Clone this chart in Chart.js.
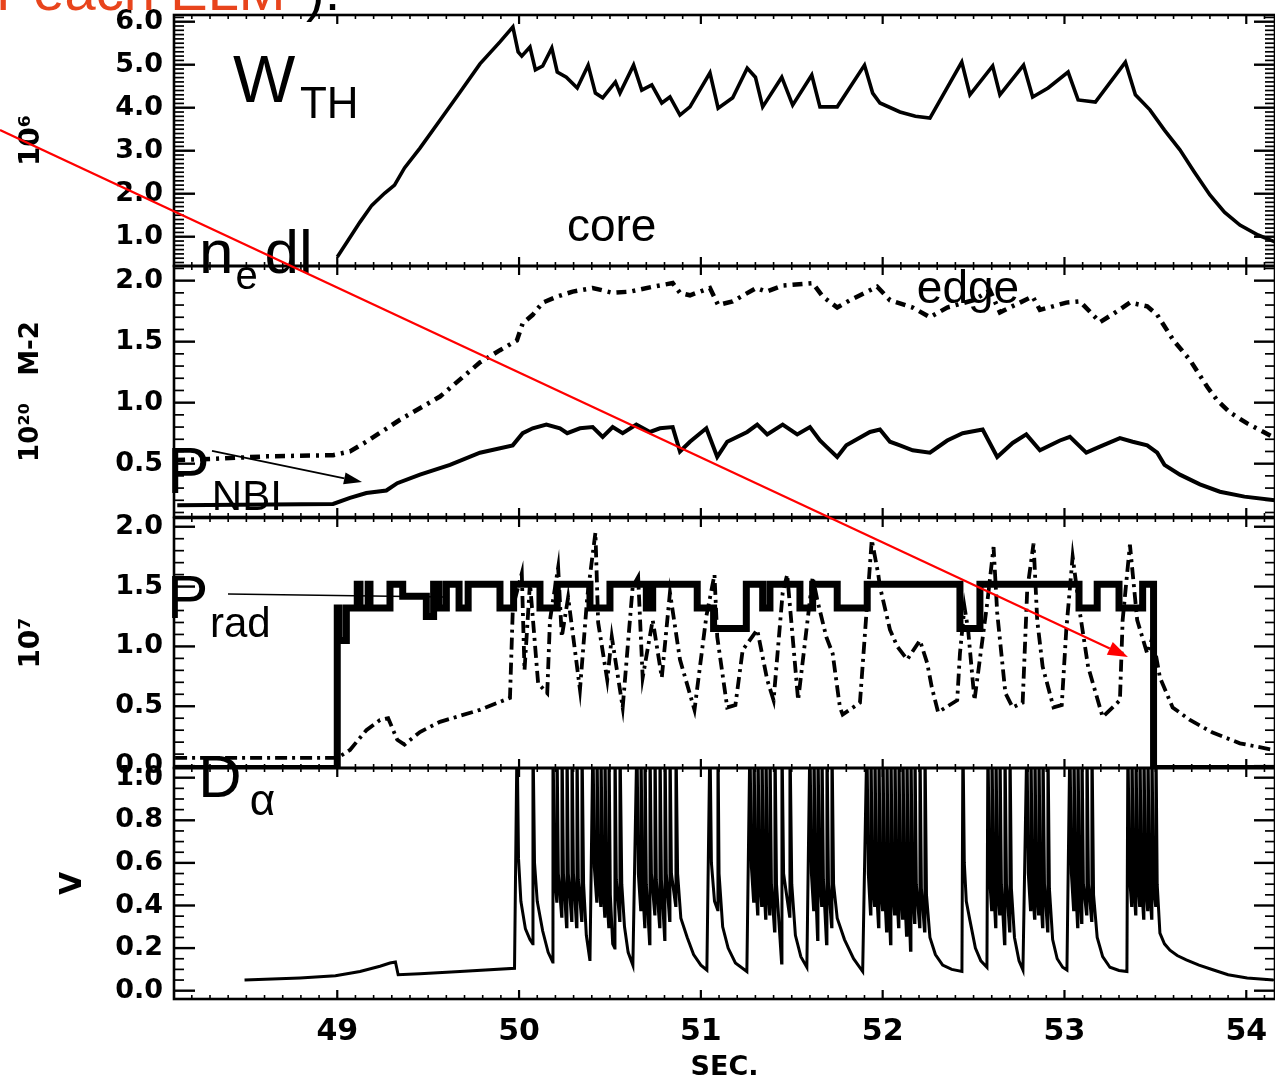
<!DOCTYPE html>
<html><head><meta charset="utf-8">
<script src="https://cdn.jsdelivr.net/npm/chart.js@4.4.0/dist/chart.umd.min.js"></script>
<style>
html,body{margin:0;padding:0;background:#fff;}
#wrap{position:relative;width:1275px;height:1084px;overflow:hidden;background:#fff;}
#wrap canvas{position:absolute;left:0;top:0;}
</style></head><body>
<div id="wrap">
<canvas id="c1" width="1275" height="1084"></canvas>
<canvas id="c2" width="1275" height="1084"></canvas>
<canvas id="c3" width="1275" height="1084"></canvas>
<canvas id="c4" width="1275" height="1084"></canvas>
</div>
<script>
// ---------- tick labels ----------
const xTickLabels = [49, 50, 51, 52, 53, 54];
const yTicksW = [6.0, 5.0, 4.0, 3.0, 2.0, 1.0];
const yTicksN = [2.0, 1.5, 1.0, 0.5];
const yTicksP = [2.0, 1.5, 1.0, 0.5, 0.0];
const yTicksD = [1.0, 0.8, 0.6, 0.4, 0.2, 0.0];

// ---------- W_TH (10^6) ----------
const tW = [49.00,49.06,49.125,49.19,49.26,49.315,49.37,49.455,49.565,49.675,49.785,49.895,49.966,49.995,50.015,50.06,50.09,50.13,50.18,50.21,50.26,50.32,50.38,50.42,50.46,50.53,50.555,50.63,50.675,50.73,50.785,50.83,50.885,50.94,51.05,51.095,51.175,51.255,51.30,51.34,51.445,51.505,51.61,51.655,51.75,51.90,51.945,51.985,52.095,52.18,52.26,52.435,52.48,52.605,52.645,52.775,52.825,52.91,53.02,53.075,53.17,53.335,53.39,53.47,53.55,53.635,53.715,53.80,53.88,53.965,54.065,54.158];
const vW = [0.53,0.92,1.34,1.73,2.01,2.20,2.60,3.06,3.71,4.36,5.02,5.53,5.88,5.30,5.20,5.41,4.88,4.97,5.39,4.83,4.71,4.46,4.99,4.34,4.23,4.60,4.34,4.99,4.41,4.53,4.11,4.25,3.83,4.02,4.81,3.99,4.23,4.92,4.71,4.02,4.71,4.06,4.76,4.02,4.02,4.99,4.34,4.11,3.90,3.80,3.76,5.06,4.30,4.97,4.30,4.99,4.25,4.46,4.83,4.18,4.13,5.06,4.30,3.95,3.48,3.02,2.50,1.97,1.57,1.27,1.04,0.88];

// ---------- n_e dl edge (10^20 m-2) ----------
const tEdge = [48.108,48.316,48.613,48.977,49.07,49.16,49.345,49.565,49.785,49.895,49.988,50.02,50.075,50.13,50.21,50.295,50.405,50.515,50.61,50.735,50.845,50.885,50.94,51.05,51.095,51.175,51.305,51.36,51.45,51.615,51.67,51.75,51.82,51.97,52.04,52.165,52.26,52.355,52.50,52.59,52.645,52.755,52.825,52.865,53.01,53.085,53.195,53.27,53.36,53.455,53.51,53.60,53.69,53.785,53.84,53.91,54.005,54.158];
const vEdge = [0.53,0.54,0.56,0.57,0.60,0.68,0.86,1.05,1.33,1.43,1.51,1.65,1.72,1.82,1.87,1.91,1.94,1.90,1.91,1.95,1.98,1.90,1.88,1.94,1.80,1.83,1.94,1.91,1.96,1.98,1.87,1.78,1.84,1.95,1.84,1.78,1.70,1.78,1.84,1.92,1.74,1.82,1.87,1.76,1.82,1.83,1.66,1.73,1.82,1.79,1.72,1.51,1.35,1.13,1.02,0.92,0.83,0.71];

// ---------- n_e dl core ----------
const tCore = [48.12,48.977,49.07,49.16,49.27,49.33,49.455,49.62,49.785,49.965,50.02,50.075,50.15,50.225,50.265,50.335,50.405,50.46,50.515,50.57,50.645,50.72,50.775,50.845,50.885,50.94,51.03,51.09,51.145,51.255,51.31,51.365,51.45,51.53,51.60,51.655,51.69,51.75,51.80,51.93,51.985,52.04,52.095,52.165,52.26,52.355,52.44,52.55,52.63,52.715,52.79,52.865,52.975,53.03,53.12,53.195,53.305,53.375,53.455,53.51,53.55,53.635,53.745,53.855,53.99,54.158];
const vCore = [0.16,0.17,0.22,0.26,0.28,0.34,0.41,0.49,0.59,0.65,0.75,0.79,0.82,0.79,0.75,0.79,0.80,0.72,0.80,0.75,0.82,0.76,0.79,0.80,0.60,0.68,0.79,0.555,0.68,0.76,0.82,0.74,0.82,0.74,0.80,0.69,0.64,0.555,0.65,0.76,0.78,0.68,0.65,0.61,0.59,0.69,0.75,0.78,0.555,0.67,0.74,0.61,0.69,0.72,0.59,0.64,0.71,0.68,0.65,0.59,0.49,0.41,0.33,0.27,0.23,0.20];

// ---------- P_NBI (10^7 W), stepped ----------
const tNbi = [48.10,49.00,49.01,49.05,49.11,49.125,49.17,49.18,49.29,49.36,49.49,49.53,49.56,49.60,49.67,49.72,49.895,49.97,50.115,50.21,50.39,50.50,50.70,50.735,50.98,51.07,51.25,51.34,51.38,51.545,51.615,51.75,51.915,52.425,52.535,53.08,53.18,53.30,53.43,53.49,54.16];
const vNbi = [-0.02,1.32,1.05,1.32,1.52,1.32,1.52,1.32,1.52,1.42,1.25,1.52,1.32,1.52,1.32,1.52,1.32,1.52,1.32,1.52,1.32,1.52,1.32,1.52,1.32,1.15,1.52,1.32,1.52,1.32,1.52,1.32,1.52,1.15,1.52,1.32,1.52,1.32,1.52,-0.02,-0.02];

// ---------- P_rad ----------
const tRad = [48.108,49.00,49.07,49.16,49.235,49.28,49.33,49.37,49.455,49.565,49.675,49.785,49.95,49.966,50.015,50.03,50.06,50.105,50.155,50.17,50.215,50.235,50.27,50.335,50.375,50.42,50.435,50.485,50.51,50.57,50.625,50.655,50.68,50.735,50.785,50.83,50.885,50.965,51.03,51.075,51.09,51.145,51.19,51.23,51.31,51.365,51.40,51.45,51.475,51.535,51.615,51.64,51.69,51.725,51.765,51.78,51.875,51.94,51.975,51.985,52.04,52.08,52.135,52.205,52.245,52.27,52.305,52.41,52.425,52.45,52.47,52.505,52.575,52.61,52.63,52.675,52.715,52.77,52.795,52.83,52.85,52.88,52.94,52.985,53.01,53.045,53.085,53.13,53.21,53.305,53.32,53.36,53.40,53.455,53.485,53.525,53.595,53.69,53.815,53.965,54.15];
const vRad = [0.068,0.068,0.135,0.30,0.385,0.40,0.22,0.18,0.285,0.37,0.42,0.47,0.57,1.33,1.61,0.80,1.53,0.69,0.61,1.22,1.66,1.08,1.41,0.64,1.41,1.95,1.20,0.72,1.08,0.49,1.50,1.58,0.74,1.22,0.74,1.45,0.89,0.47,1.25,1.60,1.08,0.49,0.51,0.97,1.14,0.72,0.55,1.45,1.60,0.55,1.58,1.39,1.08,0.94,0.49,0.43,0.53,1.89,1.61,1.50,1.14,1.00,0.89,1.05,0.86,0.66,0.45,0.55,0.94,1.33,1.14,0.55,1.36,1.83,1.28,0.61,0.49,0.53,1.47,1.86,1.22,0.83,0.49,0.51,1.14,1.75,1.28,0.83,0.41,0.55,1.22,1.85,1.22,0.94,1.08,0.74,0.49,0.385,0.28,0.19,0.135];

// ---------- D_alpha (V) ----------
const tDa = [
48.49,48.795,48.99,49.125,49.235,49.29,49.32,49.335,49.455,49.675,49.975,
49.989,49.997,50.01,50.035,50.06,50.075,
50.0765,50.085,50.10,50.13,50.16,50.185,
50.1865,50.195,50.207,50.2085,50.216,50.234,50.236,50.244,50.261,
50.2635,50.271,50.289,50.291,50.299,50.316,50.3185,50.326,50.344,
50.346,50.355,50.37,50.39,
50.4065,50.414,50.427,50.4285,50.436,50.449,50.4505,50.458,50.471,
50.4725,50.480,50.493,50.4945,50.502,50.515,50.526,
50.5275,50.535,50.553,50.555,50.565,50.58,50.60,50.626,
50.6485,50.656,50.669,50.6705,50.678,50.691,50.6925,50.70,50.718,
50.72,50.728,50.746,50.7475,50.755,50.773,50.775,50.783,50.801,
50.8025,50.81,50.828,50.83,50.838,50.861,
50.863,50.872,50.89,50.925,50.96,51.0,51.033,
51.05,51.058,51.075,51.092,51.094,51.10,51.12,51.15,51.19,51.253,
51.27,51.278,51.29,51.292,51.30,51.312,51.314,51.322,51.334,
51.336,51.344,51.356,51.358,51.366,51.378,51.38,51.388,51.405,
51.4075,51.416,51.444,51.446,51.455,51.488,
51.49,51.50,51.52,51.55,51.583,
51.60,51.608,51.62,51.622,51.63,51.642,51.644,51.652,51.664,
51.666,51.674,51.691,51.6935,51.702,51.719,
51.721,51.73,51.75,51.79,51.84,51.89,
51.9135,51.921,51.933,51.9355,51.943,51.955,51.9575,51.965,51.977,
51.9795,51.987,51.999,52.0015,52.009,52.021,52.0235,52.031,52.043,
52.0455,52.053,52.065,52.0675,52.075,52.087,52.0895,52.097,52.109,
52.1115,52.119,52.131,52.1335,52.141,52.153,52.1555,52.163,52.175,
52.1775,52.185,52.203,52.205,52.213,52.23,
52.2325,52.241,52.26,52.29,52.33,52.38,52.436,
52.4415,52.449,52.46,52.48,52.51,52.54,52.5735,
52.579,52.587,52.599,52.601,52.609,52.621,52.623,52.631,52.643,
52.645,52.653,52.670,52.6725,52.681,52.698,
52.70,52.708,52.725,52.75,52.7715,
52.7935,52.801,52.813,52.8155,52.823,52.835,52.8375,52.845,52.857,
52.8595,52.867,52.879,52.8815,52.89,52.907,
52.909,52.917,52.935,52.96,52.99,53.0135,
53.03,53.038,53.05,53.052,53.06,53.072,53.074,53.082,53.094,
53.096,53.104,53.121,53.1235,53.132,53.149,
53.151,53.16,53.18,53.21,53.25,53.30,53.3435,
53.349,53.357,53.369,53.371,53.379,53.391,53.393,53.401,53.413,
53.415,53.423,53.435,53.437,53.445,53.457,53.459,53.467,53.479,
53.481,53.489,53.501,
53.503,53.51,53.525,53.55,53.58,53.62,53.67,53.74,53.82,53.9,54.005,54.15];
const vDa = [
0.05,0.06,0.07,0.09,0.115,0.13,0.135,0.075,0.08,0.09,0.105,
1.2,0.62,0.42,0.29,0.24,0.22,
1.2,0.6,0.42,0.28,0.18,0.135,
1.2,0.55,0.42,1.2,0.55,0.35,1.2,0.55,0.30,
1.2,0.55,0.33,1.2,0.55,0.30,1.2,0.52,0.33,
1.2,0.5,0.26,0.14,
1.2,0.58,0.42,1.2,0.55,0.40,1.2,0.55,0.35,
1.2,0.5,0.30,1.2,0.45,0.22,0.20,
1.2,0.52,0.33,1.2,0.5,0.30,0.18,0.12,
1.2,0.55,0.38,1.2,0.52,0.30,1.2,0.5,0.22,
1.2,0.55,0.36,1.2,0.52,0.30,1.2,0.52,0.24,
1.2,0.55,0.33,1.2,0.55,0.40,
1.2,0.55,0.34,0.25,0.17,0.12,0.097,
1.2,0.6,0.42,0.38,1.2,0.55,0.30,0.20,0.13,0.09,
1.2,0.58,0.42,1.2,0.55,0.36,1.2,0.55,0.40,
1.2,0.55,0.34,1.2,0.52,0.36,1.2,0.5,0.28,
1.2,0.5,0.13,1.2,0.55,0.35,
1.2,0.5,0.26,0.16,0.11,
1.2,0.55,0.38,1.2,0.52,0.24,1.2,0.55,0.40,
1.2,0.52,0.22,1.2,0.5,0.30,
1.2,0.5,0.34,0.24,0.15,0.09,
1.2,0.55,0.36,1.2,0.52,0.40,1.2,0.5,0.30,
1.2,0.5,0.38,1.2,0.5,0.28,1.2,0.5,0.22,
1.2,0.5,0.36,1.2,0.52,0.30,1.2,0.5,0.34,
1.2,0.5,0.26,1.2,0.5,0.19,1.2,0.5,0.32,
1.2,0.5,0.30,1.2,0.48,0.28,
1.2,0.45,0.25,0.17,0.12,0.10,0.09,
1.2,0.6,0.42,0.33,0.2,0.14,0.11,
1.2,0.55,0.38,1.2,0.52,0.30,1.2,0.5,0.36,
1.2,0.5,0.22,1.2,0.5,0.28,
1.2,0.48,0.25,0.14,0.097,
1.2,0.55,0.38,1.2,0.52,0.34,1.2,0.5,0.36,
1.2,0.5,0.30,1.2,0.5,0.28,
1.2,0.48,0.24,0.15,0.11,0.097,
1.2,0.55,0.38,1.2,0.52,0.30,1.2,0.5,0.32,
1.2,0.5,0.36,1.2,0.5,0.33,
1.2,0.45,0.25,0.16,0.11,0.095,0.09,
1.2,0.55,0.40,1.2,0.55,0.36,1.2,0.55,0.40,
1.2,0.52,0.34,1.2,0.52,0.38,1.2,0.52,0.34,
1.2,0.5,0.40,
1.2,0.5,0.27,0.22,0.19,0.165,0.145,0.12,0.097,0.075,0.06,0.05];

// ---------- layout / style ----------
const X_MIN = 48.102, X_MAX = 54.158;
const SANS = '"Liberation Sans", Arial, sans-serif';
const TICKFONT = {family:'"DejaVu Sans", sans-serif', weight:'bold', size:27};

function pts(t, v){ return t.map((x, i) => ({x: x, y: v[i]})); }

function framePlugin(cfg){
  return { id:'frame', afterDraw(chart){
    const ctx = chart.ctx, a = chart.chartArea, xs = chart.scales.x, ys = chart.scales.y;
    ctx.save(); ctx.strokeStyle = '#000'; ctx.lineCap = 'butt';
    const seg = (x1,y1,x2,y2,w) => { ctx.lineWidth = w; ctx.beginPath(); ctx.moveTo(x1,y1); ctx.lineTo(x2,y2); ctx.stroke(); };
    for (let k = Math.ceil(xs.min*10 - 1e-6); k <= Math.floor(xs.max*10 + 1e-6); k++){
      const px = xs.getPixelForValue(k/10), major = (k % 10 === 0);
      const L = major ? 9 : 4, w = major ? 2.2 : 1.6;
      seg(px, a.bottom, px, a.bottom - L, w); seg(px, a.top, px, a.top + L, w);
    }
    const st = cfg.minor;
    for (let k = Math.ceil(ys.min/st - 1e-6); k <= Math.floor(ys.max/st + 1e-6); k++){
      const v = k*st, py = ys.getPixelForValue(v);
      const major = cfg.major.some(m => Math.abs(m - v) < 1e-6);
      const L = major ? 21 : 10, w = major ? 2.4 : 1.7;
      seg(a.left, py, a.left + L, py, w); seg(a.right, py, a.right - L, py, w);
    }
    ctx.lineWidth = 2.6; ctx.strokeRect(a.left, a.top, a.right - a.left, a.bottom - a.top);
    ctx.restore();
  }};
}

function notesPlugin(cfg){
  return { id:'notes', afterDraw(chart){
    const ctx = chart.ctx, xs = chart.scales.x, ys = chart.scales.y;
    const P = (t, v) => [xs.getPixelForValue(t), ys.getPixelForValue(v)];
    ctx.save();
    (cfg.texts || []).forEach(n => {
      ctx.font = n.font; ctx.fillStyle = n.color || '#000'; ctx.textAlign = 'left'; ctx.textBaseline = 'alphabetic';
      const [x, y] = P(n.t, n.v); ctx.fillText(n.text, x, y);
    });
    (cfg.lines || []).forEach(l => {
      const [x1, y1] = P(l.t1, l.v1), [x2, y2] = P(l.t2, l.v2);
      ctx.strokeStyle = l.color; ctx.fillStyle = l.color; ctx.lineWidth = l.width;
      ctx.beginPath(); ctx.moveTo(x1, y1);
      if (l.head){
        const ang = Math.atan2(y2 - y1, x2 - x1);
        const bx = x2 - l.head*Math.cos(ang), by = y2 - l.head*Math.sin(ang);
        ctx.lineTo(bx, by); ctx.stroke();
        ctx.beginPath(); ctx.moveTo(x2, y2);
        ctx.lineTo(bx + l.hw*Math.sin(ang), by - l.hw*Math.cos(ang));
        ctx.lineTo(bx - l.hw*Math.sin(ang), by + l.hw*Math.cos(ang));
        ctx.closePath(); ctx.fill();
      } else { ctx.lineTo(x2, y2); ctx.stroke(); }
    });
    ctx.restore();
  }};
}

function makeChart(id, o){
  return new Chart(document.getElementById(id), {
    type: 'line',
    data: { datasets: o.datasets },
    options: {
      responsive: false, animation: false, events: [],
      layout: { padding: { left: 0, right: 0, top: o.top, bottom: o.bottom } },
      plugins: { legend: {display:false}, tooltip: {enabled:false}, title: {display:false} },
      elements: { point: {radius:0}, line: {tension:0, borderJoinStyle:'miter'} },
      scales: {
        x: { type:'linear', min:X_MIN, max:X_MAX, display:o.showX,
             afterFit: s => { s.height = o.xHeight; s.paddingLeft = 0; s.paddingRight = 0; },
             afterBuildTicks: s => { s.ticks = xTickLabels.map(v => ({value:v})); },
             grid: {display:false, drawTicks:false}, border: {display:false},
             ticks: {autoSkip:false, maxRotation:0, padding:15, color:'#000',
                     font:{family:'"DejaVu Sans", sans-serif', weight:'bold', size:30}, callback: v => String(v)},
             title: {display:true, text:'SEC.', color:'#000',
                     font:{family:'"DejaVu Sans", sans-serif', weight:'bold', size:27}, padding:{top:0, bottom:0}} },
        y: { type:'linear', min:o.ymin, max:o.ymax,
             afterFit: s => { s.width = 174; s.paddingTop = 0; s.paddingBottom = 0; },
             afterBuildTicks: s => { s.ticks = o.yTicks.map(v => ({value:v})); },
             grid: {display:false, drawTicks:false}, border: {display:false},
             ticks: {autoSkip:false, padding:11, color:'#000', font:TICKFONT, callback: v => Number(v).toFixed(1)},
             title: {display:true, text:o.yTitle, color:'#000',
                     font:{family:'"DejaVu Sans", sans-serif', weight:'bold', size:o.titleSize || 26}, padding:{top:o.titlePad, bottom:0}} }
      }
    },
    plugins: [framePlugin(o.frame), notesPlugin(o.notes)]
  });
}

// Panel 1: W_TH
makeChart('c1', {
  top:15, bottom:1084-266, showX:false, xHeight:0, ymin:0.319, ymax:6.156, yTicks:yTicksW,
  yTitle:'10⁶', titlePad:15, titleSize:28, frame:{minor:0.1, major:yTicksW},
  datasets:[{data:pts(tW, vW), borderColor:'#000', borderWidth:3.6, pointRadius:0}],
  notes:{ texts:[
    {text:'Peach ELM', t:47.123, v:6.272, color:'#E8441C', font:'56px '+SANS},
    {text:').', t:48.828, v:6.272, color:'#000', font:'56px '+SANS},
    {text:'W', t:48.426, v:4.133, font:'66px '+SANS},
    {text:'TH', t:48.795, v:3.76, font:'44px '+SANS},
    {text:'core', t:50.263, v:0.90, font:'46px '+SANS},
    {text:'n', t:48.24, v:0.156, font:'62px '+SANS},
    {text:'e', t:48.44, v:-0.217, font:'40px '+SANS},
    {text:'dl', t:48.60, v:0.156, font:'62px '+SANS}
  ]}
});

// Panel 2: line densities
makeChart('c2', {
  top:266, bottom:1084-517, showX:false, xHeight:0, ymin:0.063, ymax:2.12, yTicks:yTicksN,
  yTitle:'10²⁰   M-2', titlePad:16, frame:{minor:0.1, major:yTicksN},
  datasets:[
    {data:pts(tEdge, vEdge), borderColor:'#000', borderWidth:4.5, borderDash:[10,6,3,6], pointRadius:0},
    {data:pts(tCore, vCore), borderColor:'#000', borderWidth:4, pointRadius:0}
  ],
  notes:{ texts:[
    {text:'edge', t:52.188, v:1.817, font:'46px '+SANS},
    {text:'P', t:48.063, v:0.26, font:'64px '+SANS},
    {text:'NBI', t:48.31, v:0.12, font:'42px '+SANS}
  ], lines:[
    {t1:48.311, v1:0.604, t2:49.136, v2:0.35, color:'#000', width:1.8, head:18, hw:6}
  ]}
});

// Panel 3: powers
makeChart('c3', {
  top:518, bottom:1084-768, showX:false, xHeight:0, ymin:-0.016, ymax:2.073, yTicks:yTicksP,
  yTitle:'10⁷', titlePad:15, titleSize:28, frame:{minor:0.1, major:yTicksP},
  datasets:[
    {data:pts(tRad, vRad), borderColor:'#000', borderWidth:3.8, borderDash:[12,5,3,5], pointRadius:0},
    {data:pts(tNbi, vNbi), borderColor:'#000', borderWidth:7, stepped:'before', pointRadius:0}
  ],
  notes:{ texts:[
    {text:'P', t:48.063, v:1.237, font:'62px '+SANS},
    {text:'rad', t:48.30, v:1.079, font:'42px '+SANS}
  ], lines:[
    {t1:48.399, v1:1.438, t2:49.592, v2:1.413, color:'#000', width:1.6}
  ]}
});

// Panel 4: D_alpha
makeChart('c4', {
  top:768, bottom:0, showX:true, xHeight:85, ymin:-0.039, ymax:1.0455, yTicks:yTicksD,
  yTitle:'V', titlePad:55, titleSize:30, frame:{minor:0.05, major:yTicksD},
  datasets:[{data:pts(tDa, vDa), borderColor:'#000', borderWidth:3, pointRadius:0}],
  notes:{ texts:[
    {text:'D', t:48.235, v:0.909, font:'60px '+SANS},
    {text:'α', t:48.519, v:0.825, font:'44px '+SANS}
  ], lines:[
    {t1:47.145, v1:4.041, t2:53.349, v2:1.567, color:'#FF0000', width:2.2, head:20, hw:7}
  ]}
});
</script>
</body></html>
